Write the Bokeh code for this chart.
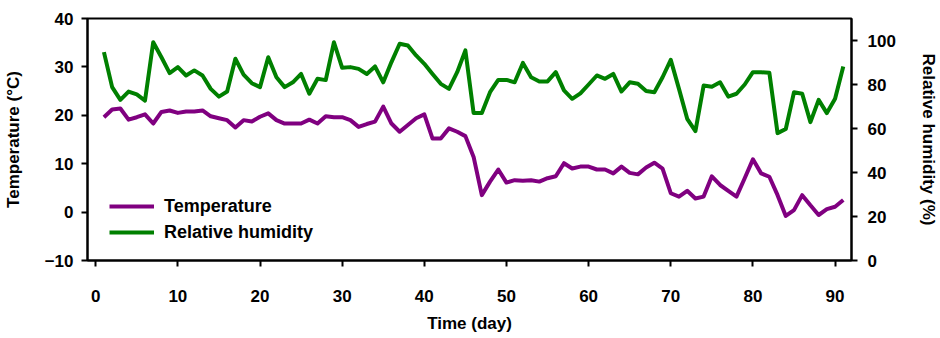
from bokeh.plotting import figure
from bokeh.models import Range1d, LinearAxis, FixedTicker, Legend, LegendItem
from bokeh.embed import file_html
from bokeh.resources import INLINE

days = list(range(1, 92))
temperature = [
    19.6, 21.2, 21.4, 19.1, 19.6, 20.2, 18.3, 20.7, 21.0, 20.5,
    20.8, 20.8, 21.0, 19.8, 19.4, 19.0, 17.5, 19.0, 18.7, 19.7,
    20.4, 19.0, 18.3, 18.3, 18.3, 19.1, 18.3, 19.8, 19.6, 19.6,
    19.0, 17.6, 18.2, 18.7, 21.8, 18.3, 16.6, 18.0, 19.4, 20.2,
    15.2, 15.2, 17.3, 16.6, 15.7, 11.4, 3.5, 6.3, 8.8, 6.1,
    6.6, 6.5, 6.6, 6.3, 7.0, 7.4, 10.1, 9.0, 9.4, 9.4,
    8.8, 8.8, 8.0, 9.4, 8.1, 7.8, 9.2, 10.2, 9.0, 3.9,
    3.2, 4.4, 2.8, 3.2, 7.4, 5.6, 4.4, 3.2, 7.0, 10.9,
    8.0, 7.3, 3.5, -0.8, 0.4, 3.5, 1.4, -0.6, 0.6, 1.1,
    2.5,
]
humidity = [
    94.7, 78.8, 73.0, 76.8, 75.5, 72.7, 99.2, 92.4, 85.2, 87.9,
    84.1, 86.4, 84.1, 78.0, 74.5, 76.8, 91.7, 84.5, 80.6, 78.8,
    92.4, 83.3, 78.8, 81.0, 84.8, 75.8, 82.6, 82.0, 99.2, 87.6,
    87.9, 87.1, 84.8, 88.2, 81.0, 90.2, 98.5, 97.7, 93.2, 89.4,
    84.8, 80.3, 78.0, 85.6, 95.5, 67.0, 67.0, 76.5, 82.1, 82.1,
    81.0, 89.8, 83.3, 81.4, 81.4, 85.6, 77.3, 73.5, 76.0, 80.0,
    84.1, 82.6, 84.8, 76.8, 81.0, 80.3, 77.0, 76.5, 83.3, 91.2,
    78.0, 64.4, 58.8, 79.5, 79.0, 81.0, 74.5, 75.8, 80.0, 85.6,
    85.6, 85.3, 57.9, 59.8, 76.5, 75.8, 62.9, 73.0, 67.0, 73.5,
    88.2,
]
x_ticks = [0, 10, 20, 30, 40, 50, 60, 70, 80, 90]
temp_ticks = [-10, 0, 10, 20, 30, 40]
rh_ticks = [0, 20, 40, 60, 80, 100]

FONT = "Liberation Sans"

p = figure(width=940, height=338, x_range=Range1d(-1, 92), y_range=Range1d(-10, 40),
           output_backend="svg", toolbar_location=None,
           min_border_left=86, min_border_right=89, min_border_top=18, min_border_bottom=78)
p.extra_y_ranges = {"rh": Range1d(0, 110)}
p.grid.visible = False
p.outline_line_color = "black"
p.outline_line_width = 2
p.background_fill_color = "white"
p.border_fill_color = "white"

r1 = p.line(days, temperature, line_color="#800080", line_width=4, line_join="round")
r2 = p.line(days, humidity, line_color="#008000", line_width=4, line_join="round", y_range_name="rh")

rax = LinearAxis(y_range_name="rh", ticker=FixedTicker(ticks=rh_ticks), axis_label="Relative humidity (%)")
p.add_layout(rax, "right")

p.xaxis.ticker = FixedTicker(ticks=x_ticks)
p.yaxis[0].ticker = FixedTicker(ticks=temp_ticks)
p.xaxis.axis_label = "Time (day)"
p.yaxis[0].axis_label = "Temperature (°C)"

for ax in p.xaxis + p.yaxis:
    ax.axis_line_width = 2
    ax.axis_line_color = "black"
    ax.major_tick_line_width = 2
    ax.major_tick_line_color = "black"
    ax.major_tick_out = 6
    ax.major_tick_in = 0
    ax.minor_tick_line_color = None
    ax.major_label_text_font = FONT
    ax.major_label_text_font_style = "bold"
    ax.major_label_text_font_size = "17px"
    ax.major_label_text_color = "black"
    ax.axis_label_text_font = FONT
    ax.axis_label_text_font_style = "bold"
    ax.axis_label_text_font_size = "17px"
    ax.axis_label_text_color = "black"

p.xaxis.major_label_standoff = 23
p.xaxis.axis_label_standoff = 9
p.yaxis[0].major_label_standoff = 8
p.yaxis[0].axis_label_standoff = 19
rax.major_label_standoff = 10
rax.axis_label_standoff = 20

legend = Legend(items=[LegendItem(label="Temperature", renderers=[r1]),
                       LegendItem(label="Relative humidity", renderers=[r2])],
                location=(22, 15), padding=0, margin=0, spacing=0,
                border_line_color=None, background_fill_alpha=0,
                glyph_width=45, glyph_height=26, label_height=26, label_standoff=10,
                label_text_font=FONT, label_text_font_style="bold",
                label_text_font_size="18px", label_text_color="black")
p.add_layout(legend)

open("out.html", "w").write(file_html(p, INLINE))
